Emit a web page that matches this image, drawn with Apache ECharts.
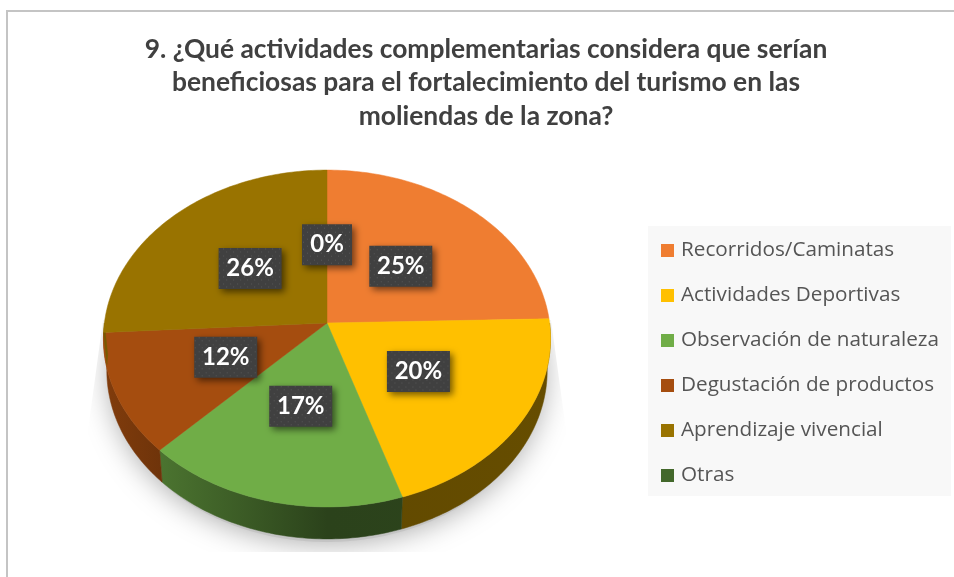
<!DOCTYPE html>
<html>
<head>
<meta charset="utf-8">
<style>
  html, body { margin: 0; padding: 0; background: #fff; }
  #chart { width: 954px; height: 577px; }
</style>
</head>
<body>
<div id="chart"></div>
<script src="https://cdn.jsdelivr.net/npm/echarts@6/dist/echarts.min.js"></script>
<script>
const titleText = '9. ¿Qué actividades complementarias considera que serían\nbeneficiosas para el fortalecimiento del turismo en las\nmoliendas de la zona?'
const categories = ['Recorridos/Caminatas', 'Actividades Deportivas', 'Observación de naturaleza', 'Degustación de productos', 'Aprendizaje vivencial', 'Otras']
const values = [24.6, 20.4, 17.4, 11.7, 25.9, 0]
const colors = ['#ef7d31', '#ffc000', '#70ad47', '#a54d0f', '#997300', '#43682b']

// perspective of the tilted disc
const cx = 327
const cy = 323
const rx = 222.6
const ry = 167
const tilt = 0.092
const depth = 32
const total = values.reduce((a, b) => a + b, 0)

function startOf(i) {
  return values.slice(0, i).reduce((a, b) => a + b, 0) / total * 360
}

// deg is clockwise from the top, f is the fraction of the radius
function project(deg, f) {
  const t = deg * Math.PI / 180
  const u = Math.sin(t) * f
  const v = -Math.cos(t) * f
  const w = 1 - tilt * v
  return [cx + rx * u / w, cy + ry * v / w]
}

function lower(p) {
  return [cx + (p[0] - cx) * 0.985, p[1] + depth]
}

function arc(from, to) {
  const pts = []
  const steps = Math.max(1, Math.ceil(to - from))
  for (let k = 0; k <= steps; k++) {
    pts.push(project(from + (to - from) * k / steps, 1))
  }
  return pts
}

function darken(color, keep) {
  const c = echarts.color.parse(color)
  return 'rgb(' + Math.round(c[0] * keep) + ',' + Math.round(c[1] * keep) + ',' + Math.round(c[2] * keep) + ')'
}

function wallFill(color) {
  const shades = [[0, 0.78], [0.14, 0.66], [0.5, 0.38], [1, 0.4]]
  return new echarts.graphic.LinearGradient(104, 0, 551, 0, shades.map(s => {
    return { offset: s[0], color: darken(color, s[1]) }
  }), true)
}

function renderSlice(params, api) {
  const i = params.seriesIndex - 1
  const size = api.value(0) / total * 360
  if (size === 0) return { type: 'group', children: [] }
  const from = startOf(i)
  const to = from + size
  const children = []
  // only the front half of the side wall can be seen
  const wallFrom = Math.max(from, 90)
  const wallTo = Math.min(to, 270)
  if (wallTo > wallFrom) {
    const top = arc(wallFrom, wallTo)
    children.push({
      type: 'polygon',
      shape: { points: top.concat(top.map(lower).reverse()) },
      style: { fill: wallFill(colors[i]), stroke: wallFill(colors[i]), lineWidth: 0.5 }
    })
  }
  children.push({
    type: 'polygon',
    shape: { points: [[cx, cy]].concat(arc(from, to)) },
    style: { fill: colors[i], stroke: colors[i], lineWidth: 0.5 }
  })
  return { type: 'group', children: children }
}

function renderLabel(params, api) {
  const i = params.dataIndex
  const size = api.value(0) / total * 360
  const c = project(startOf(i) + size / 2, 0.49)
  const text = Math.round(api.value(0)) + '%'
  const w = text.length > 2 ? 63 : 50
  const h = 41
  return {
    type: 'group',
    x: c[0],
    y: c[1],
    children: [{
      type: 'rect',
      shape: { x: -w / 2, y: -h / 2, width: w, height: h },
      style: {
        fill: { image: dotPattern(), repeat: 'repeat' },
        shadowBlur: 7,
        shadowOffsetX: 3,
        shadowOffsetY: 3,
        shadowColor: 'rgba(0,0,0,0.55)'
      }
    }, {
      type: 'text',
      style: {
        x: 0,
        y: 0,
        text: text,
        fill: '#fff',
        font: 'bold 24px "Lato"',
        textAlign: 'center',
        textVerticalAlign: 'middle'
      }
    }]
  }
}

function renderShadow() {
  const pts = arc(0, 360).map(p => [cx + (p[0] - cx) * 0.97, p[1] + depth + 3])
  return {
    type: 'group',
    clipPath: {
      type: 'polygon',
      shape: { points: [[103, 320], [88, 430], [88, 552], [566, 552], [566, 430], [551, 320]] }
    },
    children: [{
      type: 'polygon',
      shape: { points: pts },
      style: { fill: '#c4c4c4', shadowBlur: 30, shadowColor: 'rgba(0,0,0,0.36)' }
    }]
  }
}

let pattern = null
function dotPattern() {
  if (pattern) return pattern
  pattern = document.createElement('canvas')
  pattern.width = 7
  pattern.height = 7
  const g = pattern.getContext('2d')
  g.fillStyle = '#404040'
  g.fillRect(0, 0, 7, 7)
  g.fillStyle = '#565656'
  g.fillRect(1, 1, 1, 1)
  g.fillRect(4, 4, 1, 1)
  return pattern
}

const series = [{
  type: 'custom',
  coordinateSystem: 'none',
  z: 1,
  data: [[0]],
  renderItem: renderShadow
}]
categories.forEach((name, i) => {
  series.push({
    name: name,
    type: 'custom',
    coordinateSystem: 'none',
    z: 2,
    itemStyle: { color: colors[i] },
    data: [[values[i]]],
    renderItem: renderSlice
  })
})
series.push({
  type: 'custom',
  coordinateSystem: 'none',
  z: 3,
  data: values.map(v => [v]),
  renderItem: renderLabel
})

const chart = echarts.init(document.getElementById('chart'))
chart.setOption({
  animation: false,
  backgroundColor: '#fff',
  title: {
    text: titleText,
    left: 481,
    top: 27.5,
    textAlign: 'center',
    textStyle: {
      color: '#404040',
      fontFamily: 'Lato',
      fontWeight: 'bold',
      fontSize: 26.4,
      lineHeight: 33.5
    }
  },
  legend: {
    data: categories,
    orient: 'vertical',
    left: 648,
    top: 226,
    padding: [14, 12, 10, 13],
    backgroundColor: '#f8f8f8',
    icon: 'rect',
    itemWidth: 13,
    itemHeight: 13,
    itemGap: 24,
    textStyle: {
      color: '#555',
      fontFamily: 'Open Sans',
      fontSize: 20.7,
      lineHeight: 20,
      padding: [0, 0, 0, 2]
    }
  },
  graphic: [{
    type: 'line',
    shape: { x1: 7, y1: 577, x2: 7, y2: 11 },
    style: { stroke: '#c4c4c4', lineWidth: 2 }
  }, {
    type: 'line',
    shape: { x1: 6, y1: 11, x2: 954, y2: 11 },
    style: { stroke: '#c4c4c4', lineWidth: 2 }
  }],
  series: series
})
</script>
</body>
</html>
